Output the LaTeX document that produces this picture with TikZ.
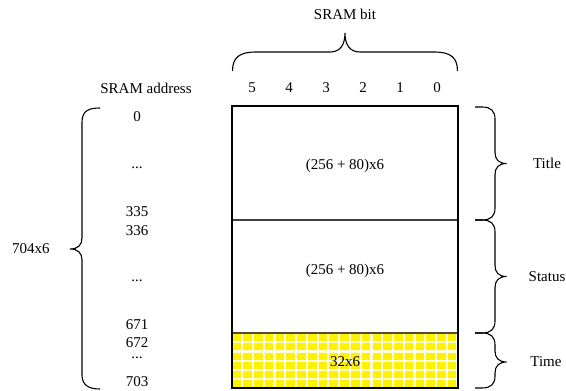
\documentclass[tikz,border=0pt]{standalone}
\usepackage{fontspec}
\setmainfont{Liberation Serif}
\begin{document}
\begin{tikzpicture}[x=1pt,y=-1pt,
  lbl/.style={inner sep=0pt,anchor=base,font=\fontsize{15}{17}\selectfont},
  brace/.style={draw=black,line width=1.1pt},
  wall/.style={draw=black,line width=2pt},
  divider/.style={draw=black!75,line width=1.3pt}]
\useasboundingbox (0,0) rectangle (566,391);
% yellow grid region
\fill[yellow] (232,333) rectangle (458,388);
\begin{scope}
\clip (232,333) rectangle (458,388);
\foreach \i in {0,...,21} \draw[white,line width=2.2pt,opacity=0.85] (242.3+\i*10.76,333) -- (242.3+\i*10.76,388);
\foreach \j in {0,...,5} \draw[white,line width=2.2pt,opacity=0.85] (232,342.2+\j*9.2) -- (458,342.2+\j*9.2);
\end{scope}
% box
\coordinate (tl) at (232,106);
\coordinate (br) at (458,388);
\draw[divider] (232,220) coordinate (d1l) -- (458,220) coordinate (d1r);
\draw[divider,draw=black!55!olive] (232,333) coordinate (d2l) -- (458,333) coordinate (d2r);
\draw[wall] (tl) rectangle (br);
% texts
\node[lbl] (bit) at (345,19) {SRAM bit};
\node[lbl] (addr) at (146,93.3) {SRAM address};
\foreach \b/\xx in {5/252,4/289,3/326,2/363,1/400,0/437} \node[lbl] (b\b) at (\xx,92.7) {\b};
\node[lbl] (a0) at (137,121.7) {0};
\node[lbl] (d1) at (137,168.3) {...};
\node[lbl] (a335) at (137,216.7) {335};
\node[lbl] (a336) at (137,235) {336};
\node[lbl] (d2) at (137,281.7) {...};
\node[lbl] (a671) at (137,329.3) {671};
\node[lbl] (a672) at (137,347.5) {672};
\node[lbl] (d3) at (137,358.5) {...};
\node[lbl] (a703) at (137,386.7) {703};
\node[lbl] (tot) at (31,253.3) {704x6};
\node[lbl] (t1) at (345,169) {(256 + 80)x6};
\node[lbl] (t2) at (345,274.5) {(256 + 80)x6};
\node[lbl] (t3) at (345,366) {32x6};
\node[lbl] (title) at (547,168.5) {Title};
\node[lbl] (status) at (547,281) {Status};
\node[lbl] (time) at (546,366) {Time};
% top brace
\draw[brace] (232.5,71) .. controls (232.5,57) and (240,52) .. (256,52) -- (330,52)
  .. controls (340,52) and (345,45) .. (345,33)
  .. controls (345,45) and (350,52) .. (360,52) -- (434,52)
  .. controls (450,52) and (457.5,57) .. (457.5,71);
% left brace
\draw[brace] (100,108) .. controls (90,108) and (82,110) .. (82,122) -- (82,238)
  .. controls (82,245) and (78,249) .. (70,249)
  .. controls (78,249) and (82,253) .. (82,260) -- (82,375)
  .. controls (82,386) and (90,389) .. (100,389);
% right braces
\foreach \ya/\yt/\yb in {107/163.5/220, 220/276.5/333, 333/362/388} {
  \draw[brace] (475,\ya) -- (482,\ya) .. controls (491,\ya) and (495,\ya+4) .. (495,\ya+12)
    -- (495,\yt-11) .. controls (495,\yt-4) and (499,\yt) .. (506.5,\yt)
    .. controls (499,\yt) and (495,\yt+4) .. (495,\yt+11)
    -- (495,\yb-12) .. controls (495,\yb-4) and (491,\yb) .. (482,\yb) -- (475,\yb);
}
\end{tikzpicture}
\end{document}
